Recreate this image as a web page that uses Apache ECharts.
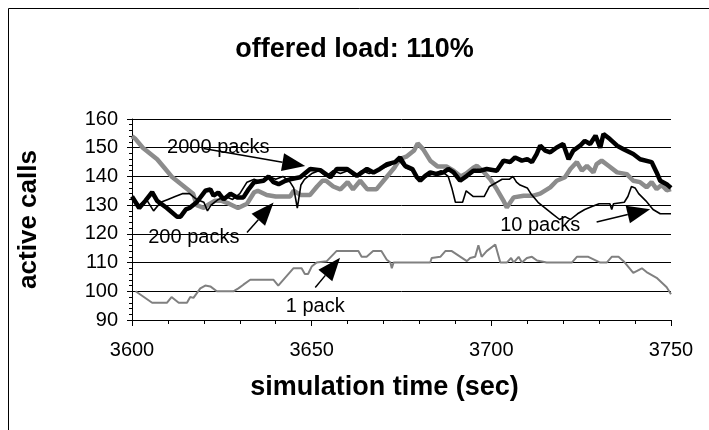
<!DOCTYPE html>
<html>
<head>
<meta charset="utf-8">
<script src="https://cdn.jsdelivr.net/npm/echarts@6/dist/echarts.min.js"></script>
<style>
  html, body { margin: 0; padding: 0; background: #fff; }
  #chart { width: 709px; height: 430px; }
</style>
</head>
<body>
<div id="chart"></div>
<script>
// ticks
var xTicks = [3600, 3650, 3700, 3750];
var yTicks = [90, 100, 110, 120, 130, 140, 150, 160];

// [simulation time, active calls]
var pack1 = [
  [3601, 100], [3605.6, 96], [3609.7, 96], [3611, 98], [3613, 96], [3615.3, 96], [3616.2, 98], [3617.1, 97.7],
  [3619, 101], [3620.4, 102], [3621.8, 101.7], [3623.6, 100], [3628.2, 100], [3629.6, 101], [3631, 102.3],
  [3632.9, 104], [3639.4, 104], [3640.7, 102], [3642.1, 104], [3644.9, 108], [3647.2, 108], [3648.1, 106],
  [3649, 106], [3650, 108.6], [3651.4, 110], [3654.2, 110.5], [3656.9, 114], [3663, 114], [3663.9, 112],
  [3665.3, 112], [3667.1, 114], [3669.4, 114], [3670.9, 111], [3671.9, 110], [3672.3, 108], [3672.8, 110],
  [3683, 110], [3683.4, 111.6], [3685.8, 112], [3687.2, 114], [3689, 114], [3693.2, 110.5], [3694.1, 111.6],
  [3695.5, 112], [3696.4, 116], [3697.3, 112], [3698.7, 114], [3701.1, 116.3], [3702.5, 110], [3704.3, 110],
  [3705.5, 111.6], [3706.2, 110], [3707.6, 112], [3708.5, 110], [3709.9, 111.6], [3711.3, 112], [3712.7, 110.7],
  [3715.4, 110], [3722.4, 110], [3723.8, 112], [3727, 112], [3730.3, 110], [3732.1, 110], [3733.5, 112],
  [3735.4, 112], [3736.8, 110.5], [3739.5, 106.4], [3741.9, 108], [3743.2, 106.7], [3746, 104.7],
  [3748.8, 101.4], [3750, 99]
];
var pack10 = [
  [3600, 133], [3602, 130], [3604, 132], [3606, 128], [3608, 131], [3610, 132], [3612, 133], [3614, 134],
  [3616, 134], [3618, 132], [3620, 131], [3621, 128], [3622, 130], [3624, 132], [3626, 133], [3628, 132],
  [3630, 134], [3632, 138], [3634, 139], [3636, 138], [3638, 140], [3640, 139], [3642, 140], [3644, 138],
  [3645, 136], [3646, 129], [3647, 137], [3648, 139], [3650, 141], [3652, 142], [3654, 140], [3656, 142],
  [3658, 141], [3660, 142], [3662, 140], [3664, 142], [3666, 141], [3668, 142], [3670, 143], [3672, 144],
  [3674, 146], [3676, 143], [3678, 142], [3680, 139], [3682, 140], [3684, 141], [3686, 142], [3688, 140],
  [3689, 136], [3690, 131], [3692, 131], [3693, 135], [3695, 133], [3698, 133], [3699.5, 136.5],
  [3703, 139], [3705, 139], [3706, 140], [3707, 138], [3708, 137], [3710, 136], [3711, 134], [3713, 131],
  [3715, 129], [3717, 127], [3719, 125], [3720.5, 126], [3722, 125], [3724, 127], [3726, 128.5],
  [3728, 129.5], [3730, 130.5], [3733, 130.5], [3733.5, 128.5], [3734, 130.5], [3737, 131], [3738, 133],
  [3739, 136.5], [3740, 136], [3741, 134], [3743, 131.5], [3745, 128.5], [3747, 127], [3750, 127]
];
var pack200 = [
  [3600, 154], [3601, 153], [3603, 150], [3605, 148], [3607, 146], [3609, 143], [3611, 140], [3613, 138],
  [3615, 136], [3617, 134], [3618, 130], [3620, 129], [3621, 130], [3623, 131.5], [3625, 131.5],
  [3627, 130.5], [3629.5, 129], [3632, 130.5], [3634, 134.5], [3635, 135], [3637.5, 133.5], [3640, 133],
  [3644, 133], [3645, 135], [3647, 133.5], [3649.5, 133.5], [3651.5, 136.5], [3653, 138.5], [3654, 138.5],
  [3656, 136.5], [3658, 135.5], [3660, 138], [3661.5, 135.5], [3663.5, 138.5], [3665.5, 135.5],
  [3668, 135.5], [3670, 138.5], [3673, 143], [3674.5, 146], [3676.5, 147], [3678.5, 149], [3679.5, 151.5],
  [3681, 149.5], [3683, 145.5], [3685, 143.5], [3687.5, 143.5], [3689.5, 142], [3691.5, 140], [3693, 141],
  [3695, 143], [3696, 143.7], [3698, 141.4], [3699.7, 139], [3701.5, 135.6], [3703.4, 131.5],
  [3704.3, 129.2], [3706.2, 132.7], [3709, 133.3], [3711.7, 133.3], [3713.6, 134], [3716.4, 136.2],
  [3718.2, 138.5], [3720.5, 139.7], [3722, 142.6], [3723.8, 145], [3725.2, 142], [3726.6, 143.7],
  [3728.4, 141.4], [3729.3, 144.3], [3730.7, 145.5], [3732.6, 143.7], [3735, 141.4], [3737.7, 140.8],
  [3739.5, 138.5], [3741.4, 138], [3743.2, 136.2], [3744.6, 138], [3746, 135.6], [3747.4, 137],
  [3748.8, 135.2], [3750, 135.6]
];
var pack2000 = [
  [3600, 133], [3602, 129], [3603.7, 131.5], [3605.6, 134.5], [3607, 131.5], [3609.7, 129], [3612.5, 126],
  [3613.5, 126], [3615, 128.5], [3616, 129], [3618, 131], [3620.4, 135], [3621.8, 135.5], [3622.7, 133.3],
  [3624, 134.4], [3625.5, 132], [3627.4, 134], [3629.2, 132.7], [3631, 132.7], [3632.5, 135.6], [3634, 138],
  [3636.6, 138.5], [3638, 140], [3639.4, 138], [3640.8, 137.3], [3642.7, 138.5], [3644, 139],
  [3646.8, 139.7], [3649.6, 142.6], [3652.4, 142.2], [3655.2, 139.7], [3657, 142.6], [3659.8, 142.6],
  [3662.6, 140.2], [3665.4, 142.6], [3667.2, 141.4], [3669, 142.6], [3671, 144.3], [3673.2, 145],
  [3674.6, 146.6], [3676, 143.7], [3678, 142.6], [3679.3, 139.7], [3680.2, 138.5], [3681.6, 140.2],
  [3683, 141.4], [3684.8, 140.8], [3686.7, 141.4], [3688, 142.6], [3689.5, 141.4], [3691.3, 138.5],
  [3693.2, 140.2], [3695, 142], [3697, 142], [3698.7, 142.6], [3701.5, 142], [3703.4, 145.5],
  [3705.2, 145], [3706.6, 146.6], [3708.5, 145.5], [3710, 146], [3711.3, 145], [3712.6, 147.8],
  [3713.6, 150.7], [3715, 149], [3716.4, 148.4], [3718.2, 150.1], [3720, 151.3], [3721.5, 146],
  [3722.8, 149], [3724.7, 150.7], [3726, 152.4], [3727.5, 151.3], [3729, 154.2], [3730.3, 150],
  [3731.2, 154.8], [3733, 153], [3735, 150.7], [3736.8, 149.5], [3739.5, 147.8], [3741.4, 146],
  [3744.6, 145], [3746, 141.4], [3747, 138.5], [3748.8, 137.3], [3750, 136]
];

// annotation text and arrows (data coordinates; arrowTip = where the head points)
var noteText = ["2000 packs", "200 packs", "10 packs", "1 pack"];
var notePos = [[3624, 150.2], [3617.2, 118.8], [3713.6, 122.8], [3651, 94.8]];
var arrowFrom = [[3619.9, 149.7], [3632, 120.45], [3729.3, 124.1], [3651, 101.3]];
var arrowTip = [[3648.2, 143.6], [3639.4, 130.9], [3744.2, 128.6], [3657.9, 111.7]];

var font = "Liberation Sans, Arial, sans-serif";

var arrowRows = [];
for (var i = 0; i < arrowFrom.length; i++) {
  arrowRows.push([arrowFrom[i][0], arrowFrom[i][1], arrowTip[i][0], arrowTip[i][1]]);
}
var notePoints = [];
for (var j = 0; j < noteText.length; j++) {
  notePoints.push({coord: notePos[j], name: noteText[j], value: noteText[j]});
}

function lineSeries(name, data, color, width) {
  return {
    name: name, type: "line", data: data, showSymbol: false, symbol: "none",
    lineStyle: {color: color, width: width}, silent: true
  };
}

// line with a filled triangular head at the tip
function renderArrow(params, api) {
  var a = api.coord([api.value(0), api.value(1)]);
  var b = api.coord([api.value(2), api.value(3)]);
  var dx = b[0] - a[0], dy = b[1] - a[1];
  var len = Math.sqrt(dx * dx + dy * dy);
  var ux = dx / len, uy = dy / len;
  var headLen = 23, headHalf = 9;
  var base = [b[0] - ux * headLen, b[1] - uy * headLen];
  return {
    type: "group",
    children: [{
      type: "line",
      shape: {x1: a[0], y1: a[1], x2: base[0], y2: base[1]},
      style: {stroke: "#000", lineWidth: 1.5}
    }, {
      type: "polygon",
      shape: {points: [b, [base[0] - uy * headHalf, base[1] + ux * headHalf], [base[0] + uy * headHalf, base[1] - ux * headHalf]]},
      style: {fill: "#000"}
    }]
  };
}

var myChart = echarts.init(document.getElementById("chart"));
myChart.setOption({
  animation: false,
  title: {
    text: "offered load: 110%", left: "center", top: 31,
    textStyle: {fontFamily: font, fontSize: 27, fontWeight: "bold", color: "#000"}
  },
  graphic: [{
    type: "rect", silent: true,
    shape: {x: 8.5, y: 8.5, width: 800, height: 500},
    style: {fill: "none", stroke: "#000", lineWidth: 1}
  }],
  grid: {left: 132, right: 38, top: 119, bottom: 110},
  xAxis: {
    type: "value", min: xTicks[0], max: xTicks[xTicks.length - 1], interval: 50,
    name: "simulation time (sec)", nameLocation: "middle", nameGap: 54,
    nameTextStyle: {fontFamily: font, fontSize: 27, fontWeight: "bold", color: "#000", padding: [0, 34, 0, 0]},
    axisLine: {lineStyle: {color: "#000", width: 1}},
    axisTick: {length: 6, lineStyle: {color: "#000"}},
    minorTick: {show: true, splitNumber: 5, length: 4, lineStyle: {color: "#000"}},
    axisLabel: {
      fontFamily: font, fontSize: 20, color: "#000", margin: 20,
      formatter: function (v) { return String(v); }
    },
    splitLine: {show: false}
  },
  yAxis: {
    type: "value", min: yTicks[0], max: yTicks[yTicks.length - 1], interval: 10,
    name: "active calls", nameLocation: "middle", nameGap: 90,
    nameTextStyle: {fontFamily: font, fontSize: 26, fontWeight: "bold", color: "#000"},
    axisLine: {show: true, lineStyle: {color: "#000", width: 1}},
    axisTick: {show: true, length: 5, lineStyle: {color: "#000"}},
    minorTick: {show: true, splitNumber: 5, length: 3, lineStyle: {color: "#000"}},
    axisLabel: {fontFamily: font, fontSize: 20, color: "#000", margin: 14},
    splitLine: {show: true, lineStyle: {color: "#000", width: 1}}
  },
  series: [
    lineSeries("1 pack", pack1, "#808080", 2),
    lineSeries("200 packs", pack200, "#8c8c8c", 4.5),
    lineSeries("10 packs", pack10, "#000", 1.6),
    lineSeries("2000 packs", pack2000, "#000", 4.5),
    {
      type: "custom", renderItem: renderArrow, data: arrowRows, silent: true, z: 5,
      encode: {x: [0, 2], y: [1, 3]},
      markPoint: {
        silent: true, symbol: "circle", symbolSize: 0,
        itemStyle: {color: "#000"},
        label: {
          show: true, position: "inside", formatter: "{b}",
          fontFamily: font, fontSize: 20, color: "#000"
        },
        data: notePoints
      }
    }
  ]
});
</script>
</body>
</html>
